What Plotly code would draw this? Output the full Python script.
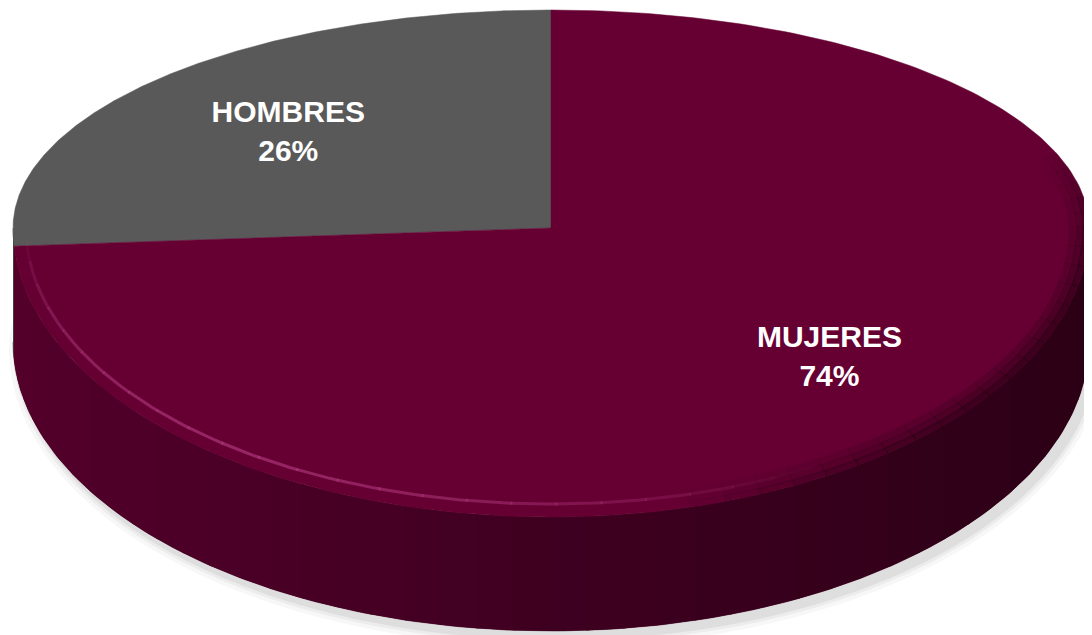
import numpy as np
import plotly.graph_objects as go

# ---- data ----
labels = ["HOMBRES", "MUJERES"]
values = [26, 74]
top_colors = ["#595959", "#660033"]

# ---- geometry (pixel space of the 1092x635 page) ----
W, H = 1092, 635
OFF = 8  # page body margin
cx, cy = 551, 228
rx, ry_top, ry_bot = 538, 218, 289
depth = 114


def pt(theta_deg, dy=0.0, shrink=0.0):
    t = np.radians(theta_deg)
    s = np.sin(t)
    ry = np.where(s > 0, ry_top, ry_bot)
    x = cx + (rx - shrink) * np.cos(t)
    y = cy - (ry - shrink) * s + dy
    return x, y


def hex2rgb(h):
    h = h.lstrip("#")
    return np.array([int(h[i:i + 2], 16) for i in (0, 2, 4)], dtype=float)


def lerp_color(stops, a):
    angs = [s[0] for s in stops]
    cols = [hex2rgb(s[1]) for s in stops]
    r = [np.interp(a, angs, [c[i] for c in cols]) for i in range(3)]
    return "rgb(%d,%d,%d)" % tuple(int(round(v)) for v in r)


fig = go.Figure()

total = float(sum(values))
g_start = 90.0
g_end = 90.0 + 360.0 * values[0] / total
m_start = g_end
m_end = 90.0 + 360.0

# ---- soft shadow ----
for k, alpha in [(10, 0.03), (6, 0.045), (3, 0.06)]:
    th = np.linspace(150, 390, 200)
    t = np.radians(th)
    s = np.sin(t)
    ry = np.where(s > 0, ry_top, ry_bot)
    xs = cx + 6 + (rx + k) * np.cos(t)
    ys = cy + depth + 6 - (ry + k) * s
    fig.add_trace(go.Scatter(x=xs, y=ys, fill="toself", mode="none",
                             fillcolor="rgba(0,0,0,%.3f)" % alpha,
                             hoverinfo="skip", showlegend=False))

# ---- side walls (front half, 180..360 deg) ----
side_stops = [(180, "#55002b"), (230, "#4c0027"), (275, "#3d001f"),
              (320, "#300018"), (360, "#2a0014")]


def side_poly(a1, a2, color, n=8, lw=0.0):
    th = np.linspace(a1, a2, n)
    x1, y1 = pt(th)
    x2, y2 = pt(th[::-1], dy=depth)
    fig.add_trace(go.Scatter(x=np.concatenate([x1, x2]), y=np.concatenate([y1, y2]),
                             fill="toself", mode="lines", line=dict(width=lw, color=color),
                             fillcolor=color, hoverinfo="skip", showlegend=False))


side_poly(180, 360, "#3e001f", n=200, lw=0.5)  # base underneath the strips
side_poly(180, g_end, "#404040", n=6)
edges = np.linspace(g_end, 360, 46)
for a1, a2 in zip(edges[:-1], edges[1:]):
    side_poly(a1, a2 + 0.3, lerp_color(side_stops, 0.5 * (a1 + a2)))

# ---- top faces ----
for lab, c, (a1, a2) in zip(labels, top_colors, [(g_start, g_end), (m_start, m_end)]):
    th = np.linspace(a1, a2, 300)
    x, y = pt(th)
    fig.add_trace(go.Scatter(x=np.concatenate([[cx], x, [cx]]),
                             y=np.concatenate([[cy], y, [cy]]),
                             fill="toself", mode="lines", line=dict(width=0.5, color=c),
                             fillcolor=c, hoverinfo="skip", showlegend=False))


def faded_arc(a1, a2, shrink, width, rgb, amax, nseg=24, skew=0.0):
    ed = np.linspace(a1, a2, nseg + 1)
    for i in range(nseg):
        mid = (i + 0.5) / nseg
        a = amax * np.sin(np.pi * mid) ** 0.8 * (1 - skew * mid)
        th = np.linspace(ed[i], ed[i + 1] + 0.2, 6)
        x, y = pt(th, shrink=shrink)
        fig.add_trace(go.Scatter(x=x, y=y, mode="lines",
                                 line=dict(width=width, color="rgba(%d,%d,%d,%.3f)" % (rgb + (a,))),
                                 hoverinfo="skip", showlegend=False))


# ---- bevel: darkening toward the lower-right rim ----
faded_arc(-75, 20, 16, 8, (45, 0, 22), 0.25)
faded_arc(-75, 20, 9, 8, (45, 0, 22), 0.45)
faded_arc(-75, 20, 3, 7, (40, 0, 20), 0.65)

# ---- highlight line along the front-left rim ----
faded_arc(182, 300, 13, 3, (180, 60, 130), 0.8, skew=0.5)

# ---- labels ----
lab_r = [0.67, 0.71]
lab_dy = [6, -9]
mids = [0.5 * (g_start + g_end), 0.5 * (m_start + m_end)]
px, py = pt(np.array(mids))
lx = cx + (px - cx) * np.array(lab_r)
ly = cy + (py - cy) * np.array(lab_r) + np.array(lab_dy)
texts = ["<b>%s</b><br><b>%d%%</b>" % (l, v) for l, v in zip(labels, values)]
fig.add_trace(go.Scatter(x=lx, y=ly, mode="text", text=texts,
                         textposition="middle center",
                         textfont=dict(family="Liberation Sans, Arial", size=30, color="white"),
                         hoverinfo="skip", showlegend=False))

fig.update_layout(
    width=W, height=H,
    margin=dict(l=0, r=0, t=0, b=0),
    paper_bgcolor="white", plot_bgcolor="white",
    xaxis=dict(range=[OFF, W + OFF], visible=False, fixedrange=True),
    yaxis=dict(range=[H + OFF, OFF], visible=False, fixedrange=True),
    showlegend=False,
)

fig.write_html("out.html")
